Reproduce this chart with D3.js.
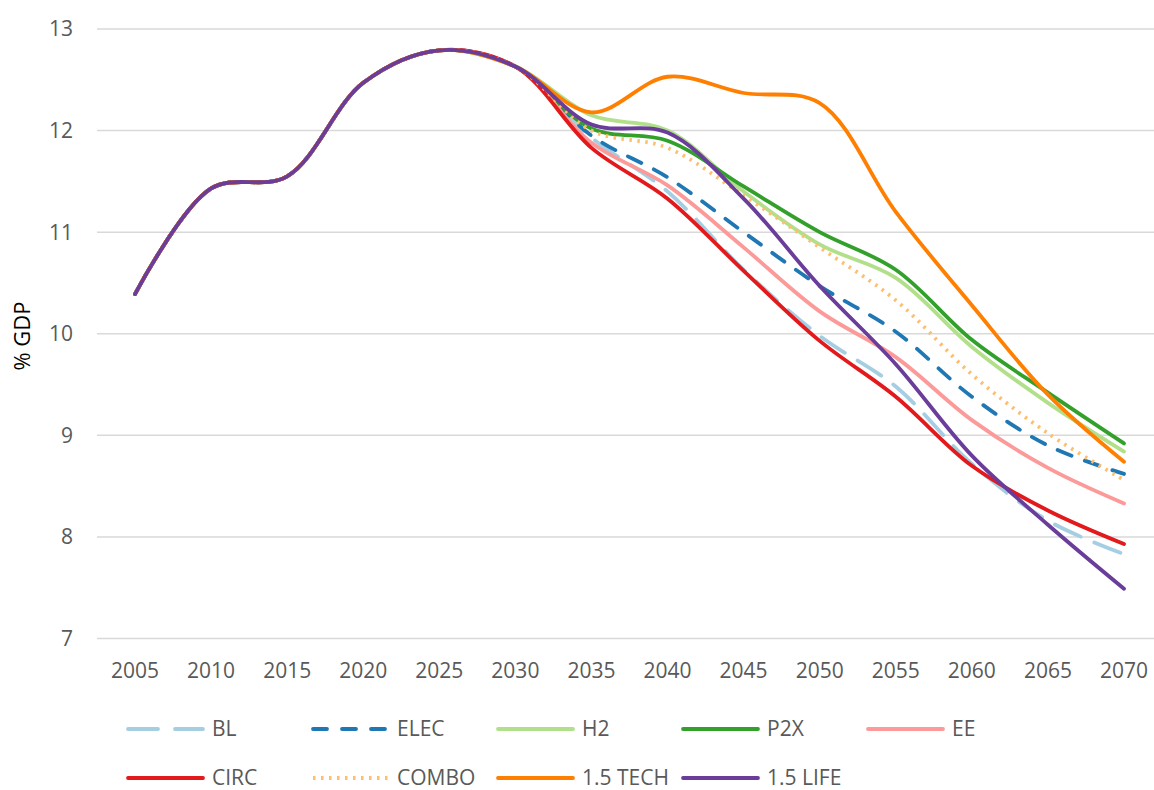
<!DOCTYPE html>
<html lang="en">
<head>
    <meta charset="UTF-8">
    <title>% GDP scenarios</title>
    <script src="https://d3js.org/d3.v7.min.js"></script>
    <style>
        body { margin: 0; background: #fff; }
        svg text { font-family: "Open Sans", sans-serif; }
        .tick-label { font-size: 21px; fill: #595959; }
        .legend-label { font-size: 21px; fill: #595959; }
        .grid line { stroke: #d9d9d9; stroke-width: 1.5px; }
    </style>
</head>
<body>
    <svg id="chart" width="1154" height="790"></svg>
    <script>
        // data
        const years = [2005, 2010, 2015, 2020, 2025, 2030, 2035, 2040, 2045, 2050, 2055, 2060, 2065, 2070];
        const yTicks = [7, 8, 9, 10, 11, 12, 13];
        const history = [10.39, 11.43, 11.55, 12.47, 12.79, 12.63];

        const BL    = [11.93, 11.40, 10.63, 9.98, 9.48, 8.72, 8.16, 7.83];
        const ELEC  = [11.95, 11.54, 11.00, 10.47, 10.02, 9.38, 8.90, 8.62];
        const H2    = [12.15, 12.00, 11.40, 10.88, 10.55, 9.87, 9.32, 8.84];
        const P2X   = [12.02, 11.90, 11.45, 11.00, 10.63, 9.94, 9.42, 8.92];
        const EE    = [11.88, 11.46, 10.85, 10.22, 9.77, 9.15, 8.68, 8.33];
        const CIRC  = [11.83, 11.33, 10.62, 9.93, 9.38, 8.70, 8.26, 7.93];
        const COMBO = [12.00, 11.83, 11.36, 10.85, 10.33, 9.60, 9.02, 8.56];
        const TECH  = [12.18, 12.53, 12.37, 12.27, 11.20, 10.28, 9.40, 8.74];
        const LIFE  = [12.06, 11.98, 11.33, 10.47, 9.70, 8.80, 8.12, 7.49];

        const series = [
            { name: "BL", values: BL, color: "#a6cee3", dash: "28,15", legendDash: "30,17" },
            { name: "ELEC", values: ELEC, color: "#1f78b4", dash: "15,14", legendDash: "14,15" },
            { name: "H2", values: H2, color: "#b2df8a", dash: null },
            { name: "P2X", values: P2X, color: "#33a02c", dash: null },
            { name: "EE", values: EE, color: "#fb9a99", dash: null },
            { name: "CIRC", values: CIRC, color: "#e31a1c", dash: null },
            { name: "COMBO", values: COMBO, color: "#fdbf6f", dash: "2.5,5.5", dotted: true },
            { name: "1.5 TECH", values: TECH, color: "#ff7f00", dash: null },
            { name: "1.5 LIFE", values: LIFE, color: "#6a3d9a", dash: null }
        ];

        const svg = d3.select("#chart");

        const x = d3.scalePoint().domain(years).range([135, 1124]);
        const y = d3.scaleLinear().domain([7, 13]).range([638.5, 29]);

        // gridlines
        svg.append("g").attr("class", "grid")
            .selectAll("line")
            .data(yTicks)
            .enter().append("line")
            .attr("x1", 97).attr("x2", 1162)
            .attr("y1", d => y(d)).attr("y2", d => y(d));

        // y tick labels
        svg.append("g").selectAll("text")
            .data(yTicks)
            .enter().append("text")
            .attr("class", "tick-label")
            .attr("x", 73)
            .attr("y", d => y(d))
            .attr("dy", "0.35em")
            .attr("text-anchor", "end")
            .text(d => d);

        // x tick labels
        svg.append("g").selectAll("text")
            .data(years)
            .enter().append("text")
            .attr("class", "tick-label")
            .attr("x", d => x(d))
            .attr("y", 671)
            .attr("dy", "0.35em")
            .attr("text-anchor", "middle")
            .text(d => d);

        // axis title
        svg.append("text")
            .attr("transform", "translate(22,336) rotate(-90)")
            .attr("text-anchor", "middle")
            .attr("dy", "0.35em")
            .style("font-size", "22px")
            .style("fill", "#000")
            .text("% GDP");

        const line = d3.line()
            .x((d, i) => x(years[i]))
            .y(d => y(d))
            .curve(d3.curveCatmullRom.alpha(0.5));

        svg.append("g").selectAll("path")
            .data(series)
            .enter().append("path")
            .attr("d", d => line(history.concat(d.values)))
            .attr("fill", "none")
            .attr("stroke", d => d.color)
            .attr("stroke-width", 3.8)
            .attr("stroke-linejoin", "round")
            .attr("stroke-linecap", d => d.dotted ? "butt" : "round")
            .attr("stroke-dasharray", d => d.dash);

        // legend, two rows
        const legend = svg.append("g").selectAll("g")
            .data(series)
            .enter().append("g")
            .attr("transform", (d, i) => {
                const col = i < 5 ? i : i - 5;
                const row = i < 5 ? 0 : 1;
                return "translate(" + (128 + col * 185) + "," + (729 + row * 49) + ")";
            });

        legend.append("line")
            .attr("x1", 0).attr("x2", 75)
            .attr("stroke", d => d.color)
            .attr("stroke-width", 3.8)
            .attr("stroke-linecap", d => d.dotted ? "butt" : "round")
            .attr("stroke-dasharray", d => d.legendDash || d.dash);

        legend.append("text")
            .attr("class", "legend-label")
            .attr("x", 84)
            .attr("dy", "0.35em")
            .text(d => d.name);
    </script>
</body>
</html>
